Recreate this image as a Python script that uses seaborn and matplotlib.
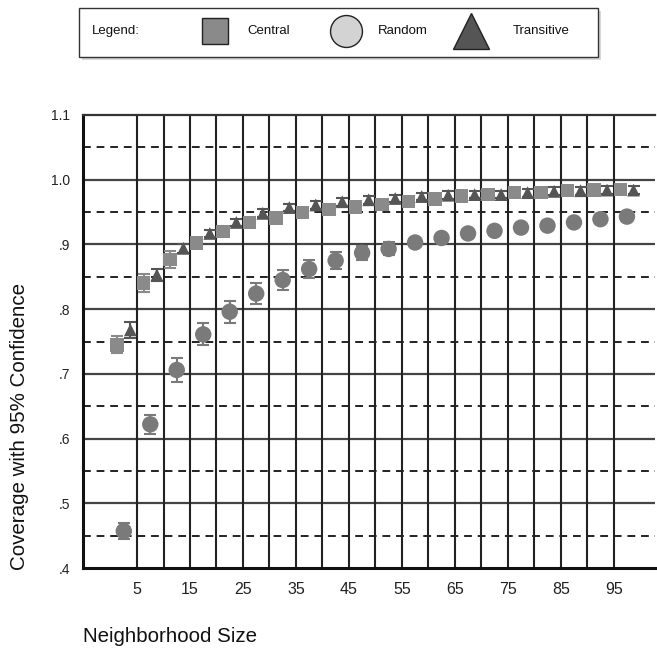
import matplotlib
matplotlib.use("Agg")
import matplotlib.pyplot as plt
import seaborn as sns
import pandas as pd
from matplotlib.lines import Line2D
from matplotlib.patches import Rectangle

# ---- data ----
group_edges = [5, 10, 15, 20, 25, 30, 35, 40, 45, 50, 55, 60, 65, 70, 75, 80, 85, 90, 95, 100]
central_mean = [0.745, 0.840, 0.877, 0.902, 0.920, 0.934, 0.941, 0.949, 0.954, 0.958,
                0.962, 0.966, 0.970, 0.975, 0.977, 0.980, 0.980, 0.983, 0.984, 0.985]
central_err = [0.013, 0.014, 0.013, 0.005, 0.004, 0.004, 0.003, 0.003, 0.003, 0.003,
               0.003, 0.003, 0.003, 0.003, 0.003, 0.003, 0.003, 0.003, 0.003, 0.003]
random_mean = [0.457, 0.622, 0.706, 0.761, 0.796, 0.824, 0.845, 0.862, 0.875, 0.887,
               0.893, 0.903, 0.910, 0.917, 0.921, 0.926, 0.929, 0.934, 0.939, 0.943]
random_err = [0.012, 0.015, 0.018, 0.017, 0.017, 0.016, 0.016, 0.014, 0.013, 0.011,
              0.010, 0.007, 0.005, 0.005, 0.004, 0.004, 0.004, 0.004, 0.004, 0.004]
trans_mean = [0.768, 0.853, 0.894, 0.917, 0.934, 0.948, 0.957, 0.961, 0.966, 0.969,
              0.971, 0.974, 0.976, 0.977, 0.977, 0.980, 0.982, 0.983, 0.984, 0.984]
trans_err = [0.012, 0.009, 0.007, 0.006, 0.006, 0.006, 0.006, 0.006, 0.006, 0.006,
             0.006, 0.006, 0.006, 0.006, 0.006, 0.006, 0.006, 0.006, 0.006, 0.006]
xtick_values = [5, 15, 25, 35, 45, 55, 65, 75, 85, 95]
ytick_values = [0.4, 0.5, 0.6, 0.7, 0.8, 0.9, 1.0, 1.1]
ytick_labels = [".4", ".5", ".6", ".7", ".8", ".9", "1.0", "1.1"]
series_names = ["Central", "Random", "Transitive"]

# ---- style ----
sns.set_style("white")
plt.rcParams["font.family"] = ["Liberation Sans", "DejaVu Sans"]

c_central = "#8a8a8a"
c_random = "#7a7a7a"
c_trans = "#555555"

fig = plt.figure(figsize=(6.57, 6.54), dpi=100)
ax = fig.add_axes([83 / 657, 1 - 568 / 654, (655 - 83) / 657, (568 - 115) / 654])

# grid
for v in [0.5, 0.6, 0.7, 0.8, 0.9, 1.0]:
    ax.axhline(v, color="#444444", lw=1.6, zorder=1)
for v in [0.45, 0.55, 0.65, 0.75, 0.85, 0.95, 1.05]:
    ax.axhline(v, color="#222222", lw=1.4, ls=(0, (4, 3)), zorder=1)
for e in group_edges[:-1]:
    ax.axvline(e, color="#222222", lw=1.5, zorder=1)

offsets = {"Central": -3.75, "Random": -2.5, "Transitive": -1.25}
rows = []
for name, means, errs in [("Central", central_mean, central_err),
                          ("Random", random_mean, random_err),
                          ("Transitive", trans_mean, trans_err)]:
    for e, m, er in zip(group_edges, means, errs):
        rows.append({"series": name, "x": e + offsets[name], "y": m, "err": er})
df = pd.DataFrame(rows)

styles = {"Central": (c_central, "s", 95),
          "Random": (c_random, "o", 140),
          "Transitive": (c_trans, "^", 85)}
for name in series_names:
    sub = df[df["series"] == name]
    col, mk, sz = styles[name]
    ax.errorbar(sub["x"], sub["y"], yerr=sub["err"], fmt="none", ecolor=col,
                elinewidth=1.5, capsize=4, capthick=1.5, zorder=3)
    sns.scatterplot(data=sub, x="x", y="y", marker=mk, s=sz, color=col,
                    edgecolor="none", linewidth=0, ax=ax, zorder=4, legend=False)

ax.set_xlim(-5.2, 102.8)
ax.set_ylim(0.4, 1.1)
ax.set_xticks(xtick_values)
ax.set_xticklabels([str(v) for v in xtick_values], fontsize=11.5, color="#222222")
ax.set_yticks(ytick_values)
ax.set_yticklabels(ytick_labels, fontsize=10, color="#222222")
ax.tick_params(axis="x", length=0, pad=10)
ax.tick_params(axis="y", length=0, pad=9)
ax.set_xlabel("")
ax.set_ylabel("")

for side in ["left", "bottom"]:
    ax.spines[side].set_color("#111111")
    ax.spines[side].set_linewidth(2.2)
ax.spines["top"].set_color("#333333")
ax.spines["top"].set_linewidth(1.6)
ax.spines["right"].set_visible(False)

fig.text(83 / 657, 1 - 637 / 654, "Neighborhood Size", fontsize=14.8, ha="left",
         va="center", color="#111111")
fig.text(20 / 657, 1 - 426 / 654, "Coverage with 95% Confidence", fontsize=14.8,
         rotation=90, ha="center", va="center", color="#111111")

# ---- legend box ----
def fx(px):
    return px / 657

def fy(py):
    return 1 - py / 654

shadow = Rectangle((fx(82), fy(60)), fx(519), fy(11) - fy(60), transform=fig.transFigure,
                   facecolor="#d8d8d8", edgecolor="none", zorder=0)
fig.add_artist(shadow)
box = Rectangle((fx(79), fy(57)), fx(519), fy(8) - fy(57), transform=fig.transFigure,
                facecolor="white", edgecolor="#333333", lw=1.0, zorder=1)
fig.add_artist(box)
fig.text(fx(92), fy(31), "Legend:", fontsize=9.5, ha="left", va="center", color="#111111")
legend_items = [("Central", "s", c_central, 215, 247, 19),
                ("Random", "o", "#d3d3d3", 346, 378, 23),
                ("Transitive", "^", "#555555", 471, 513, 26)]
for label, mk, col, mxp, txp, msz in legend_items:
    fig.add_artist(Line2D([fx(mxp)], [fy(31)], marker=mk, markersize=msz, color=col,
                          markeredgecolor="#222222", markeredgewidth=1.0, ls="none",
                          transform=fig.transFigure, zorder=2))
    fig.text(fx(txp), fy(31), label, fontsize=9.5, ha="left", va="center", color="#111111")

fig.savefig("out.png", dpi=100)
